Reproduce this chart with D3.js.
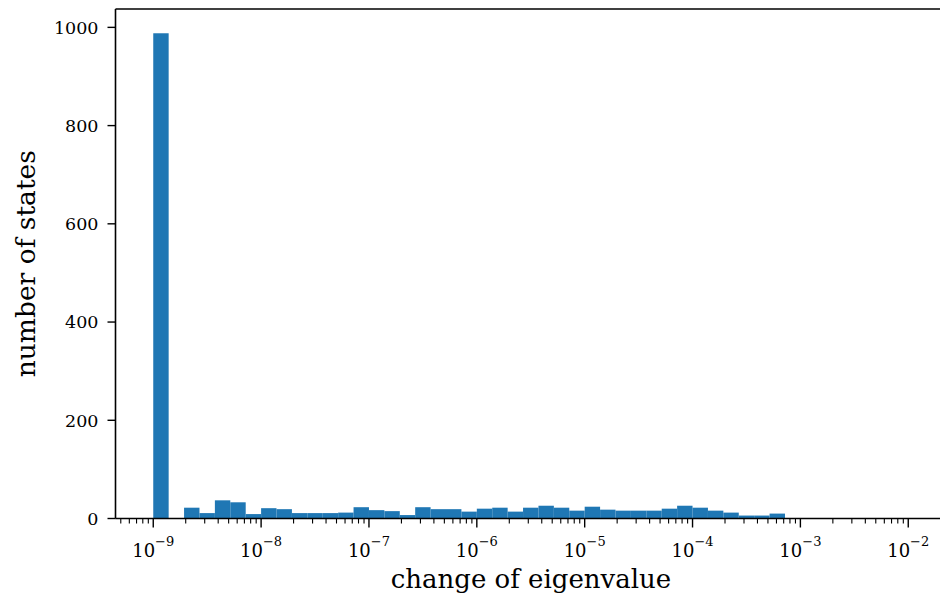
<!DOCTYPE html>
<html><head><meta charset="utf-8">
<script src="https://cdn.jsdelivr.net/npm/d3@7"></script>
<style>
html,body{margin:0;padding:0;background:#fff;}
svg{display:block;font-family:"DejaVu Serif",serif;}
</style></head>
<body><svg id="chart" width="940" height="599"></svg>
<script>
// Histogram: 49 log-spaced bins from 1e-9 to 1e-2
const binExpStart = -9;
const binExpEnd = -2;
const binCount = 49;
const counts = [988,0,22,11,37,33,9,21,19,11,11,11,12,23,17,15,7,23,19,19,14,20,22,14,22,26,22,16,24,18,16,16,16,20,26,22,16,12,6,6,10,0,0,0,0,0,0,0,0];
const yTicks = [0,200,400,600,800,1000];
const xMajorExps = [-9,-8,-7,-6,-5,-4,-3,-2];
const xLabel = "change of eigenvalue";
const yLabel = "number of states";

const svg = d3.select("#chart");
const pLeft = 115.5, pRight = 946, pTop = 9, pBottom = 518.5;

const edges = d3.range(binCount + 1).map(i => Math.pow(10, binExpStart + (binExpEnd - binExpStart) * i / binCount));
const bins = counts.map((c, i) => ({x0: edges[i], x1: edges[i+1], n: c}));

const span = binExpEnd - binExpStart;
const x = d3.scaleLog()
  .domain([Math.pow(10, binExpStart - 0.05*span), Math.pow(10, binExpEnd + 0.05*span)])
  .range([pLeft, pRight]);
const ymax = d3.max(counts) * 1.05;
const y = d3.scaleLinear().domain([0, ymax]).range([pBottom, pTop]);

// bars
svg.append("g").selectAll("rect").data(bins.filter(b => b.n > 0)).join("rect")
  .attr("x", d => x(d.x0))
  .attr("width", d => x(d.x1) - x(d.x0))
  .attr("y", d => y(d.n))
  .attr("height", d => y(0) - y(d.n))
  .attr("fill", "#1f77b4");

// minor x ticks
const [d0, d1] = x.domain();
const minor = [];
for (let e = Math.floor(Math.log10(d0)); e <= Math.ceil(Math.log10(d1)); e++) {
  for (let m = 2; m <= 9; m++) {
    const v = m * Math.pow(10, e);
    if (v >= d0 && v <= d1) minor.push(v);
  }
}
const gx = svg.append("g");
gx.selectAll("line.minor").data(minor).join("line")
  .attr("class", "minor")
  .attr("x1", d => x(d)).attr("x2", d => x(d))
  .attr("y1", pBottom).attr("y2", pBottom + 5)
  .attr("stroke", "#000").attr("stroke-width", 1.1);
gx.selectAll("line.major").data(xMajorExps).join("line")
  .attr("class", "major")
  .attr("x1", d => x(Math.pow(10, d))).attr("x2", d => x(Math.pow(10, d)))
  .attr("y1", pBottom).attr("y2", pBottom + 9)
  .attr("stroke", "#000").attr("stroke-width", 1.4);
const xt = gx.selectAll("text").data(xMajorExps).join("text")
  .attr("x", d => x(Math.pow(10, d)))
  .attr("y", 557)
  .attr("text-anchor", "middle")
  .attr("font-size", 18)
  .attr("fill", "#000");
xt.append("tspan").text("10");
xt.append("tspan").attr("dy", -11).attr("font-size", 13).text(d => "\u2212" + Math.abs(d));

// y ticks
const gy = svg.append("g");
gy.selectAll("line").data(yTicks).join("line")
  .attr("x1", pLeft - 8).attr("x2", pLeft)
  .attr("y1", d => y(d)).attr("y2", d => y(d))
  .attr("stroke", "#000").attr("stroke-width", 1.4);
gy.selectAll("text").data(yTicks).join("text")
  .attr("x", pLeft - 17).attr("y", d => y(d))
  .attr("dy", "0.36em")
  .attr("text-anchor", "end")
  .attr("font-size", 17.5)
  .attr("fill", "#000")
  .text(d => d);

// spines
const spine = (x1, y1, x2, y2) => svg.append("line")
  .attr("x1", x1).attr("y1", y1).attr("x2", x2).attr("y2", y2)
  .attr("stroke", "#000").attr("stroke-width", 1.6);
spine(pLeft, pTop, pLeft, pBottom);
spine(pLeft, pBottom, pRight, pBottom);
spine(pLeft, pTop, pRight, pTop);
spine(pRight, pTop, pRight, pBottom);

// axis labels
svg.append("text").attr("x", 531).attr("y", 588)
  .attr("text-anchor", "middle").attr("font-size", 26).attr("fill", "#000")
  .text(xLabel);
svg.append("text").attr("transform", `translate(35,${(pTop+pBottom)/2}) rotate(-90)`)
  .attr("text-anchor", "middle").attr("font-size", 26.5).attr("fill", "#000")
  .text(yLabel);
</script></body></html>
